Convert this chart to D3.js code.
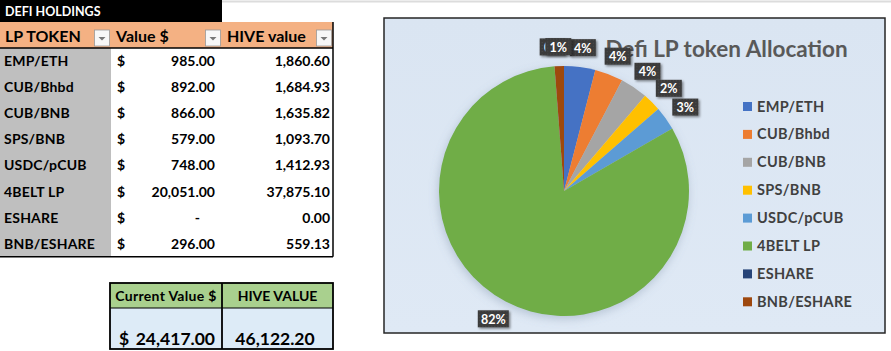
<!DOCTYPE html>
<html>
<head>
<meta charset="utf-8">
<script src="https://cdn.jsdelivr.net/npm/d3@7"></script>
<style>
  html, body { margin: 0; padding: 0; background: #fff; }
  svg { display: block; font-family: Lato, "Open Sans", sans-serif; }
</style>
</head>
<body>
<div id="chart"></div>
<script>
// table / pie data
const tokens = ['EMP/ETH', 'CUB/Bhbd', 'CUB/BNB', 'SPS/BNB', 'USDC/pCUB', '4BELT LP', 'ESHARE', 'BNB/ESHARE'];
const usdValues = [985, 892, 866, 579, 748, 20051, 0, 296];
const hiveValues = [1860.60, 1684.93, 1635.82, 1093.70, 1412.93, 37875.10, 0.00, 559.13];
const sliceColors = ['#4472c4', '#ed7d31', '#a5a5a5', '#ffc000', '#5b9bd5', '#70ad47', '#264478', '#9e480e'];
const headers = ['LP TOKEN', 'Value $', 'HIVE value'];
const totalUsd = 24417.00;
const totalHive = 46122.20;

const width = 891, height = 351;
const fmt = d3.format(',.2f');

const svg = d3.select('#chart').append('svg')
    .attr('width', width)
    .attr('height', height);

const defs = svg.append('defs');
const shadow = defs.append('filter').attr('id', 'shadow')
    .attr('x', '-20%').attr('y', '-20%').attr('width', '140%').attr('height', '140%');
shadow.append('feDropShadow')
    .attr('dx', -1).attr('dy', 3).attr('stdDeviation', 5)
    .attr('flood-color', '#6c7f99').attr('flood-opacity', 0.35);
const lblShadow = defs.append('filter').attr('id', 'lblShadow')
    .attr('x', '-30%').attr('y', '-30%').attr('width', '160%').attr('height', '160%');
lblShadow.append('feDropShadow')
    .attr('dx', 1.5).attr('dy', 1.5).attr('stdDeviation', 1.2)
    .attr('flood-color', '#000').attr('flood-opacity', 0.45);
const dots = defs.append('pattern').attr('id', 'dots')
    .attr('width', 3).attr('height', 3).attr('patternUnits', 'userSpaceOnUse');
dots.append('rect').attr('width', 3).attr('height', 3).attr('fill', '#3a3a3a');
dots.append('rect').attr('x', 1).attr('y', 1).attr('width', 1).attr('height', 1).attr('fill', '#4e4e4e');

// faint sheet line on top
svg.append('line')
    .attr('x1', 222).attr('x2', width).attr('y1', 1.5).attr('y2', 1.5)
    .attr('stroke', '#dcdcdc').attr('stroke-width', 2);

// ---------- Holdings table ----------
const tbl = {left: 0, right: 333, top: 22, headH: 26, rowH: 26.1};
const colX = [0, 111, 222, 333];

svg.append('rect')
    .attr('x', 0).attr('y', 0).attr('width', 222).attr('height', 22)
    .attr('fill', '#000');
svg.append('text')
    .attr('x', 5).attr('y', 16)
    .attr('font-size', 12.5).attr('font-weight', 700).attr('fill', '#fff')
    .text('DEFI HOLDINGS');

svg.append('rect')
    .attr('x', tbl.left).attr('y', tbl.top).attr('width', tbl.right).attr('height', tbl.headH)
    .attr('fill', '#f4b183');

const head = svg.append('g').selectAll('g').data(headers).enter().append('g');
head.append('text')
    .attr('x', (d, i) => colX[i] + 5)
    .attr('y', tbl.top + 20)
    .attr('font-size', 16).attr('font-weight', 700).attr('fill', '#000')
    .text(d => d);
head.append('rect')
    .attr('x', (d, i) => colX[i + 1] - 16.5)
    .attr('y', tbl.top + 8)
    .attr('width', 15).attr('height', 16)
    .attr('fill', '#f7f7f7').attr('stroke', '#9a9a9a').attr('stroke-width', 0.8);
head.append('path')
    .attr('d', (d, i) => {
        const cx = colX[i + 1] - 9, cy = tbl.top + 15;
        return `M${cx - 3.5},${cy} L${cx + 3.5},${cy} L${cx},${cy + 3.5} Z`;
    })
    .attr('fill', '#777');

const bodyTop = tbl.top + tbl.headH;
const bodyH = tbl.rowH * tokens.length;
svg.append('rect')
    .attr('x', 0).attr('y', bodyTop).attr('width', colX[1]).attr('height', bodyH)
    .attr('fill', '#bfbfbf');

const rowY = i => bodyTop + tbl.rowH * i + tbl.rowH / 2 + 5;
const rows = svg.append('g').selectAll('g').data(tokens).enter().append('g')
    .attr('font-size', 14).attr('font-weight', 700).attr('fill', '#000');
rows.append('text')
    .attr('x', 4).attr('y', (d, i) => rowY(i))
    .attr('letter-spacing', 0.2)
    .text(d => d);
rows.append('text')
    .attr('x', 117).attr('y', (d, i) => rowY(i))
    .text('$');
rows.append('text')
    .attr('x', (d, i) => usdValues[i] === 0 ? 200 : 215)
    .attr('y', (d, i) => rowY(i))
    .attr('text-anchor', 'end')
    .text((d, i) => usdValues[i] === 0 ? '-' : fmt(usdValues[i]));
rows.append('text')
    .attr('x', 330).attr('y', (d, i) => rowY(i))
    .attr('text-anchor', 'end')
    .text((d, i) => fmt(hiveValues[i]));

// table borders
svg.append('line')
    .attr('x1', 0).attr('x2', tbl.right).attr('y1', bodyTop).attr('y2', bodyTop)
    .attr('stroke', '#000').attr('stroke-width', 1.5);
svg.append('line')
    .attr('x1', 0).attr('x2', tbl.right).attr('y1', bodyTop + bodyH).attr('y2', bodyTop + bodyH)
    .attr('stroke', '#000').attr('stroke-width', 1.5);
svg.append('line')
    .attr('x1', tbl.right).attr('x2', tbl.right).attr('y1', tbl.top).attr('y2', bodyTop + bodyH)
    .attr('stroke', '#000').attr('stroke-width', 1.5);

// ---------- Totals box ----------
const tot = {x0: 110, x1: 222, x2: 333, y0: 283, y1: 308, y2: 349};
svg.append('rect')
    .attr('x', tot.x0).attr('y', tot.y0).attr('width', tot.x2 - tot.x0).attr('height', tot.y1 - tot.y0)
    .attr('fill', '#a9d08e');
svg.append('rect')
    .attr('x', tot.x0).attr('y', tot.y1).attr('width', tot.x2 - tot.x0).attr('height', tot.y2 - tot.y1)
    .attr('fill', '#ddebf7');
svg.append('rect')
    .attr('x', tot.x0).attr('y', tot.y0).attr('width', tot.x2 - tot.x0).attr('height', tot.y2 - tot.y0)
    .attr('fill', 'none').attr('stroke', '#000').attr('stroke-width', 1.8);
svg.append('line')
    .attr('x1', tot.x1).attr('x2', tot.x1).attr('y1', tot.y0).attr('y2', tot.y2)
    .attr('stroke', '#000').attr('stroke-width', 1.8);
svg.append('line')
    .attr('x1', tot.x0).attr('x2', tot.x2).attr('y1', tot.y1).attr('y2', tot.y1)
    .attr('stroke', '#000').attr('stroke-width', 1);
svg.append('text')
    .attr('x', (tot.x0 + tot.x1) / 2).attr('y', tot.y0 + 18)
    .attr('text-anchor', 'middle').attr('font-size', 14).attr('font-weight', 700)
    .attr('letter-spacing', 0.3)
    .text('Current Value $');
svg.append('text')
    .attr('x', (tot.x1 + tot.x2) / 2).attr('y', tot.y0 + 18)
    .attr('text-anchor', 'middle').attr('font-size', 14).attr('font-weight', 700)
    .text('HIVE VALUE');
svg.append('text')
    .attr('x', 119).attr('y', 345)
    .attr('font-size', 17.5).attr('font-weight', 700)
    .text('$');
svg.append('text')
    .attr('x', 215).attr('y', 345)
    .attr('text-anchor', 'end').attr('font-size', 17.5).attr('font-weight', 700)
    .text(fmt(totalUsd));
svg.append('text')
    .attr('x', 275).attr('y', 345)
    .attr('text-anchor', 'middle').attr('font-size', 17.5).attr('font-weight', 700)
    .text(fmt(totalHive));

// ---------- Pie chart ----------
const frame = {x: 384, y: 18, w: 501, h: 315};
const bg = defs.append('linearGradient').attr('id', 'bg')
    .attr('x1', 0).attr('y1', 0).attr('x2', 0).attr('y2', 1);
bg.append('stop').attr('offset', 0).attr('stop-color', '#dae5f2');
bg.append('stop').attr('offset', 1).attr('stop-color', '#dfe9f5');
svg.append('rect')
    .attr('x', frame.x).attr('y', frame.y).attr('width', frame.w).attr('height', frame.h)
    .attr('fill', 'url(#bg)').attr('stroke', '#262626').attr('stroke-width', 1.5);

svg.append('text')
    .attr('x', 726.5).attr('y', 56.5)
    .attr('text-anchor', 'middle')
    .attr('font-size', 22.5).attr('font-weight', 700).attr('fill', '#595959')
    .text('Defi LP token Allocation');

const cx = 564, cy = 191, radius = 125;
const pie = d3.pie().sort(null).value(d => d);
const arcs = pie(usdValues);
const arc = d3.arc().innerRadius(0).outerRadius(radius);
const total = d3.sum(usdValues);

const pieG = svg.append('g').attr('transform', `translate(${cx},${cy})`);
pieG.append('g').attr('filter', 'url(#shadow)')
    .selectAll('path')
    .data(arcs)
    .enter()
    .append('path')
    .attr('d', arc)
    .attr('fill', (d, i) => sliceColors[i]);

// data labels, boxed, outside end: box edge sits a gap beyond the rim
const pctText = d => d3.format('.0%')(d.value / total);
const boxW = d => pctText(d).length > 2 ? 31 : 26;
const boxH = 17;
const gap = 11;
const lbl = pieG.append('g').selectAll('g')
    .data(arcs)
    .enter()
    .append('g')
    .attr('transform', d => {
        const a = (d.startAngle + d.endAngle) / 2;
        const ux = Math.sin(a), uy = -Math.cos(a);
        const x = ux * (radius + gap) + ux * boxW(d) / 2;
        const y = uy * (radius + gap) + uy * boxH / 2;
        return `translate(${x},${y})`;
    });
lbl.append('rect')
    .attr('x', d => -boxW(d) / 2)
    .attr('y', -boxH / 2)
    .attr('width', boxW)
    .attr('height', boxH)
    .attr('fill', 'url(#dots)')
    .attr('filter', 'url(#lblShadow)');
lbl.append('text')
    .attr('y', 5)
    .attr('text-anchor', 'middle')
    .attr('font-size', 12.5).attr('font-weight', 700).attr('fill', '#fff')
    .text(pctText);

// legend
const legend = svg.append('g').selectAll('g')
    .data(tokens)
    .enter()
    .append('g')
    .attr('transform', (d, i) => `translate(743,${106.5 + i * 27.9})`);
legend.append('rect')
    .attr('x', 0).attr('y', -4.5).attr('width', 9).attr('height', 9)
    .attr('fill', (d, i) => sliceColors[i]);
legend.append('text')
    .attr('x', 14).attr('y', 5)
    .attr('font-size', 14.5).attr('font-weight', 700).attr('fill', '#404040')
    .attr('letter-spacing', 0.3)
    .text(d => d);
</script>
</body>
</html>
